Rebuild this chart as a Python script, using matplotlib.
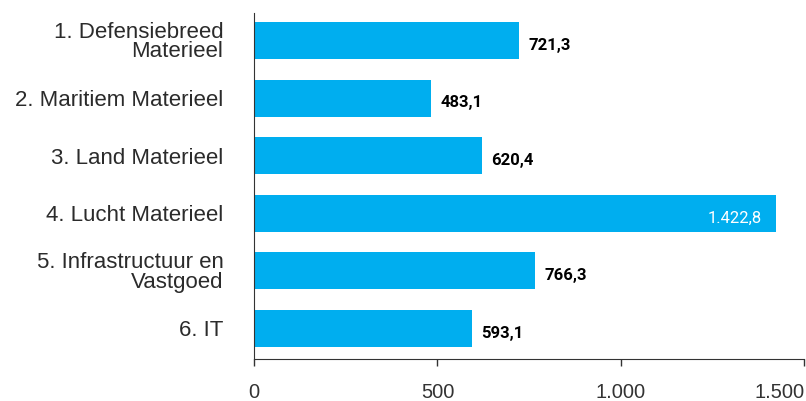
import numpy as np
import matplotlib.pyplot as plt

plt.rcParams['font.family'] = ['Liberation Sans', 'DejaVu Sans']

categories = ['1. Defensiebreed\nMaterieel', '2. Maritiem Materieel', '3. Land Materieel',
              '4. Lucht Materieel', '5. Infrastructuur en\nVastgoed', '6. IT']
values = [721.3, 483.1, 620.4, 1422.8, 766.3, 593.1]
xticks = [0, 500, 1000, 1500]
xtick_labels = ['0', '500', '1.000', '1.500']

BLUE = '#00AEEF'
DARK = '#2b2b2b'

fig = plt.figure(figsize=(8.06, 4.01), dpi=100)
ax = fig.add_axes([0.3151, 0.1047, 0.6830, 0.8629])

pos = np.arange(len(values))
ax.barh(pos, values, height=0.64, color=BLUE)

for p, v in zip(pos, values):
    txt = f'{v:,.1f}'.replace(',', 'X').replace('.', ',').replace('X', '.')
    if v > 1300:
        ax.annotate(txt, (v, p + 0.08), xytext=(-10, 0), textcoords='offset points',
                    ha='right', va='center', color='white', fontsize=12,
                    family=['Roboto', 'DejaVu Sans'])
    else:
        ax.annotate(txt, (v, p + 0.08), xytext=(7, 0), textcoords='offset points',
                    ha='left', va='center', color='black', fontsize=12,
                    fontweight='bold', family=['Roboto', 'DejaVu Sans'])

ax.set_yticks(pos)
ax.set_yticklabels(categories, fontsize=16, color=DARK, linespacing=0.9)
ax.tick_params(axis='y', length=0, pad=22)
ax.set_xticks(xticks)
ax.set_xticklabels(xtick_labels, fontsize=14.5, color='#333333')
ax.tick_params(axis='x', length=5, width=1, direction='out', pad=12, color='#333333')
ax.get_xticklabels()[-1].set_horizontalalignment('right')

ax.set_xlim(0, 1500)
ax.set_ylim(5.53, -0.477)
for s in ['top', 'right']:
    ax.spines[s].set_visible(False)
ax.spines['left'].set_color('#333333')
ax.spines['bottom'].set_color('#333333')

fig.savefig('out.png', dpi=100)
